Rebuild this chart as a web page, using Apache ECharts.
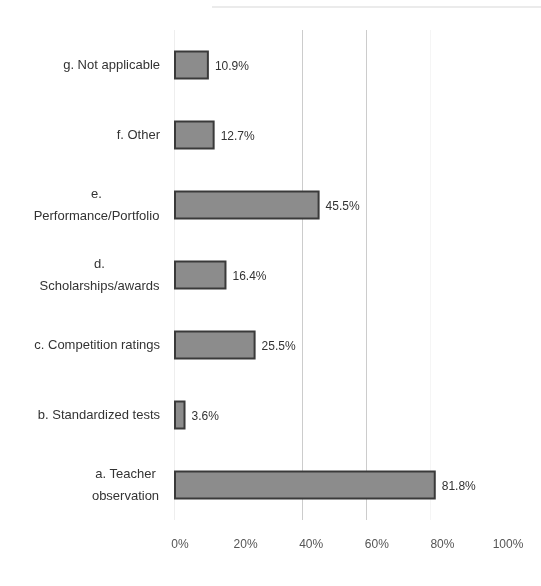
<!DOCTYPE html>
<html>
<head>
<meta charset="utf-8">
<script src="https://cdn.jsdelivr.net/npm/echarts@6/dist/echarts.min.js"></script>
<style>
html,body{margin:0;padding:0;background:#fff;}
#chart{width:541px;height:586px;}
</style>
</head>
<body>
<div id="chart"></div>
<script>
// Categories listed bottom to top (first = bottom of the chart)
const categories = [
  'a. Teacher\nobservation',
  'b. Standardized tests',
  'c. Competition ratings',
  'd.\nScholarships/awards',
  'e.\nPerformance/Portfolio',
  'f. Other',
  'g. Not applicable'
];
const values = [81.8, 3.6, 25.5, 16.4, 45.5, 12.7, 10.9];
const tickValues = [0, 20, 40, 60, 80, 100];

const FONT = 'Liberation Sans, Arial, sans-serif';
const CAT_SIZE = 13;
const ctx = document.createElement('canvas').getContext('2d');
ctx.font = CAT_SIZE + 'px ' + FONT;
const rich = {};
const catLabels = categories.map(function (c, i) {
  const lines = c.split('\n');
  if (lines.length === 1) return c;
  let w = 0;
  lines.forEach(function (l) { w = Math.max(w, ctx.measureText(l).width); });
  rich['l' + i] = { width: Math.ceil(w) + 1, align: 'center', fontSize: CAT_SIZE, lineHeight: 22, color: '#333', fontFamily: FONT };
  return lines.map(function (l) { return '{l' + i + '|' + l + '}'; }).join('\n');
});

const chart = echarts.init(document.getElementById('chart'));
chart.setOption({
  backgroundColor: '#ffffff',
  animation: false,
  graphic: [{
    type: 'line',
    shape: { x1: 212, y1: 7, x2: 541, y2: 7 },
    style: { stroke: '#e4e4e4', lineWidth: 1.5 }
  }],
  grid: [
    { left: 174, top: 30, width: 320, height: 490 },
    { left: 180, top: 30, width: 328, height: 490 }
  ],
  xAxis: [{
    type: 'value', gridIndex: 0,
    min: 0, max: 100, interval: 20,
    axisLine: { show: false },
    axisTick: { show: false },
    axisLabel: { show: false },
    splitLine: {
      show: true,
      lineStyle: { color: ['#eeeeee', 'rgba(0,0,0,0)', '#cccccc', '#cccccc', '#f5f5f5', 'rgba(0,0,0,0)'], width: 1 }
    }
  }, {
    type: 'value', gridIndex: 1,
    min: 0, max: 100, interval: 20,
    axisLine: { show: false },
    axisTick: { show: false },
    splitLine: { show: false },
    axisLabel: {
      formatter: function (v) { return tickValues.indexOf(v) >= 0 ? v + '%' : ''; },
      color: '#555', fontSize: 12, fontFamily: FONT, margin: 19
    }
  }],
  yAxis: [{
    type: 'category', gridIndex: 0,
    data: categories,
    axisLine: { show: false },
    axisTick: { show: false },
    axisLabel: {
      formatter: function (v, i) { return catLabels[i]; },
      rich: rich,
      color: '#333', fontSize: CAT_SIZE, fontFamily: FONT, margin: 14, lineHeight: 22, align: 'right'
    }
  }, {
    type: 'category', gridIndex: 1, data: categories, show: false
  }],
  series: [{
    type: 'bar',
    xAxisIndex: 0, yAxisIndex: 0,
    data: values,
    barWidth: 29,
    itemStyle: { color: '#8c8c8c', borderColor: '#3a3a3a', borderWidth: 2 },
    label: {
      show: true, position: 'right', distance: 6,
      formatter: function (p) { return p.value.toFixed(1) + '%'; },
      color: '#333', fontSize: 12, fontFamily: FONT, offset: [0, 2]
    }
  }]
});
</script>
</body>
</html>
